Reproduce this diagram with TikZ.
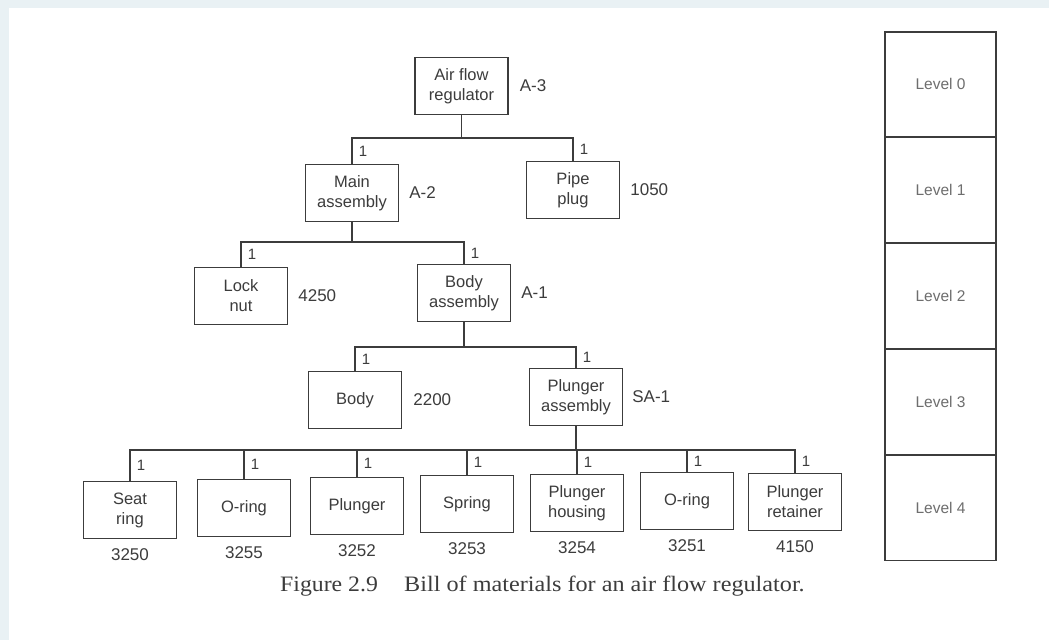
\documentclass[tikz,border=0pt]{standalone}
\usepackage{fontspec}
\setmainfont{Liberation Serif}
\setsansfont{Liberation Sans}
\usetikzlibrary{positioning,calc}
\definecolor{bgblue}{HTML}{E9F1F4}
\definecolor{ink}{HTML}{3C3C3C}
\definecolor{lvink}{HTML}{6E6E6E}
\tikzset{
  part/.style={draw=ink, line width=1.3pt, minimum width=93pt, minimum height=57pt,
    inner sep=1pt, align=center, text=ink, font=\sffamily\fontsize{16.5}{20}\selectfont},
  lab/.style={text=ink, inner sep=0pt, font=\sffamily\fontsize{17}{20}\selectfont},
  qty/.style={text=ink, inner sep=0pt, font=\sffamily\fontsize{15}{17}\selectfont},
  conn/.style={draw=ink, line width=1.3pt},
  lvcell/.style={draw=ink, line width=1.1pt, minimum width=111pt, minimum height=104.8pt,
    inner sep=0pt, text=lvink, font=\sffamily\fontsize{15.5}{18}\selectfont},
  captext/.style={text=ink, inner sep=0pt, font=\fontsize{22}{26}\selectfont}
}
\begin{document}
\begin{tikzpicture}[x=1pt,y=-1pt]
\useasboundingbox (0,0) rectangle (1049,640);
\fill[bgblue] (0,0) rectangle (1049,640);
\fill[white] (9,8) rectangle (1049,640);

% Level 0
\node[part] (A) at (461.5,86) {Air flow\\regulator};
\node[lab, right=11pt of A] (Al) {A-3};
% Level 1
\node[part] (M) at (352,193) {Main\\assembly};
\node[lab, right=10pt of M] (Ml) {A-2};
\node[part] (P) at (573,190) {Pipe\\plug};
\node[lab, right=10pt of P] (Pl) {1050};
% Level 2
\node[part] (L) at (241,296) {Lock\\nut};
\node[lab, right=10pt of L] (Ll) {4250};
\node[part] (B) at (464,293) {Body\\assembly};
\node[lab, right=10pt of B] (Bl) {A-1};
% Level 3
\node[part] (Bd) at (355,400) {Body};
\node[lab, right=11pt of Bd] (Bdl) {2200};
\node[part] (PA) at (576,397) {Plunger\\assembly};
\node[lab, right=9pt of PA] (PAl) {SA-1};
% Level 4
\node[part] (SR) at (130,510) {Seat\\ring};
\node[part] (OR1) at (244,508) {O-ring};
\node[part] (PL) at (357,506) {Plunger};
\node[part] (SP) at (467,504) {Spring};
\node[part] (PH) at (577,503) {Plunger\\housing};
\node[part] (OR2) at (687,501) {O-ring};
\node[part] (PR) at (795,502) {Plunger\\retainer};
\foreach \n/\t in {SR/3250,OR1/3255,PL/3252,SP/3253,PH/3254,OR2/3251,PR/4150}
  \node[lab] (\n num) at ($(\n.south)+(0,15.5)$) {\t};

% connectors
\coordinate (b1) at (0,138);
\coordinate (b2) at (0,242);
\coordinate (b3) at (0,347);
\coordinate (b4) at (0,450);
\draw[conn] (A.south) -- (A.south |- b1);
\draw[conn] (M.north) -- (M.north |- b1) -- (P.north |- b1) -- (P.north);
\draw[conn] (M.south) -- (M.south |- b2);
\draw[conn] (L.north) -- (L.north |- b2) -- (B.north |- b2) -- (B.north);
\draw[conn] (B.south) -- (B.south |- b3);
\draw[conn] (Bd.north) -- (Bd.north |- b3) -- (PA.north |- b3) -- (PA.north);
\draw[conn] (PA.south) -- (PA.south |- b4);
\draw[conn] (SR.north) -- (SR.north |- b4) -- (PR.north |- b4) -- (PR.north);
\foreach \n in {OR1,PL,SP,PH,OR2}
  \draw[conn] (\n.north) -- (\n.north |- b4);

% quantities
\foreach \n/\bb in {M/b1,P/b1,L/b2,B/b2,Bd/b3,PA/b3,SR/b4,OR1/b4,PL/b4,SP/b4,PH/b4,OR2/b4,PR/b4}
  \node[qty] (\n q) at ($(\n.north)!0.5!(\n.north |- \bb) + (11,0)$) {1};

% level column
\node[lvcell] (lv0) at (940.5,84.4) {Level 0};
\node[lvcell, below=0pt of lv0] (lv1) {Level 1};
\node[lvcell, below=0pt of lv1] (lv2) {Level 2};
\node[lvcell, below=0pt of lv2] (lv3) {Level 3};
\node[lvcell, below=0pt of lv3] (lv4) {Level 4};

% caption
\node[captext, anchor=base west] (fig) at (280,591) {\scalebox{1.08}[1]{Figure 2.9}};
\node[captext, anchor=base west] (capt) at (404,591) {\scalebox{1.1}[1]{Bill of materials for an air flow regulator.}};
\end{tikzpicture}
\end{document}
